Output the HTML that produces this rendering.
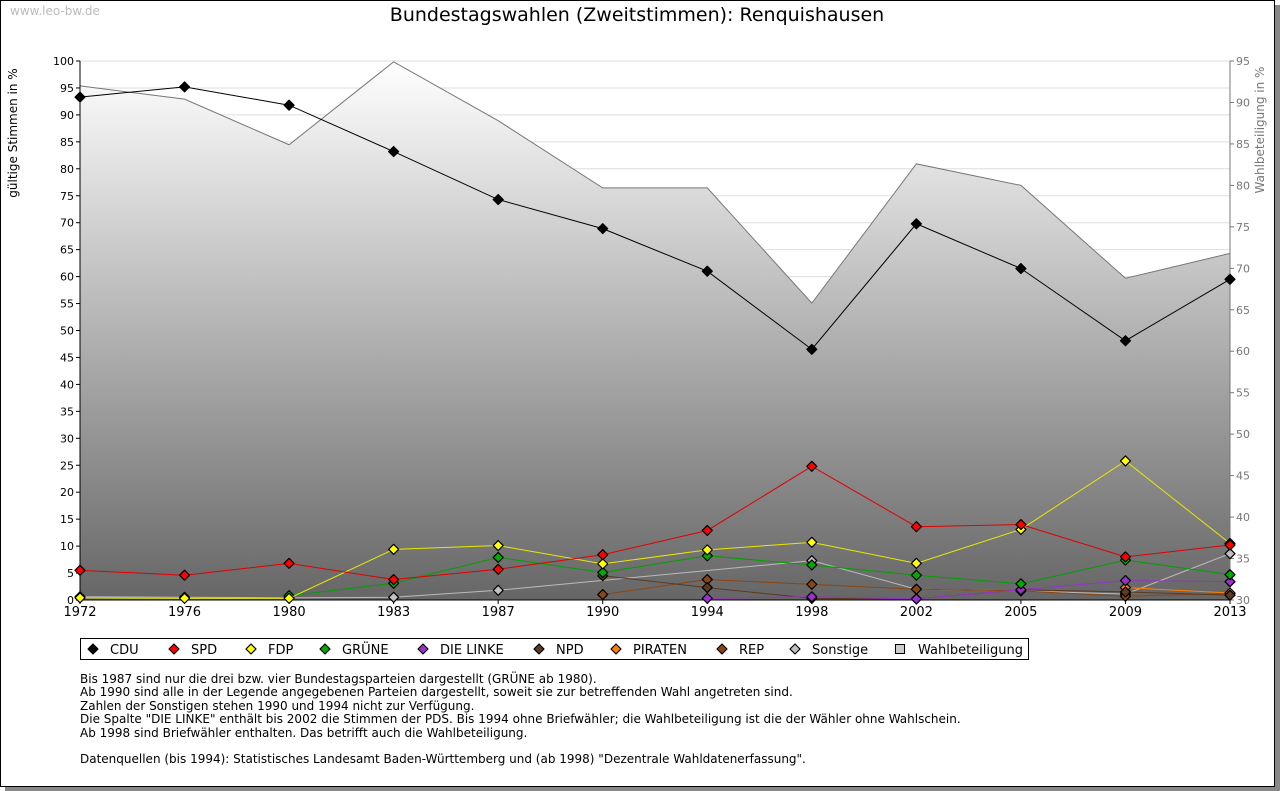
<!DOCTYPE html><html><head><meta charset="utf-8"><style>
body{margin:0;background:#fff;font-family:"DejaVu Sans","Liberation Sans",sans-serif}
#frame{position:absolute;left:0;top:0;width:1273px;height:785px;border:1px solid #000;box-shadow:5px 5px 0 #888;background:#fff}
.note{position:absolute;left:80px;top:673px;font-size:12px;line-height:13.4px;color:#000;white-space:pre}
</style></head><body>
<div id="frame"></div>
<svg id="c" width="1280" height="791" style="position:absolute;left:0;top:0" font-family="DejaVu Sans, Liberation Sans, sans-serif">
<defs><linearGradient id="g" x1="0" y1="0" x2="0" y2="1"><stop offset="0" stop-color="#ffffff"/><stop offset="1" stop-color="#666666"/></linearGradient></defs>
<text x="10" y="15" font-size="12" fill="#bbb">www.leo-bw.de</text>
<text x="637" y="21" font-size="19" text-anchor="middle">Bundestagswahlen (Zweitstimmen): Renquishausen</text>
<text transform="translate(17,133) rotate(-90)" font-size="12" text-anchor="middle">gültige Stimmen in %</text>
<text transform="translate(1264,130) rotate(-90)" font-size="12" fill="#777" text-anchor="middle">Wahlbeteiligung in %</text>
<g id="plot"></g>
</svg>
<div class="note">Bis 1987 sind nur die drei bzw. vier Bundestagsparteien dargestellt (GRÜNE ab 1980).
Ab 1990 sind alle in der Legende angegebenen Parteien dargestellt, soweit sie zur betreffenden Wahl angetreten sind.
Zahlen der Sonstigen stehen 1990 und 1994 nicht zur Verfügung.
Die Spalte "DIE LINKE" enthält bis 2002 die Stimmen der PDS. Bis 1994 ohne Briefwähler; die Wahlbeteiligung ist die der Wähler ohne Wahlschein.
Ab 1998 sind Briefwähler enthalten. Das betrifft auch die Wahlbeteiligung.

Datenquellen (bis 1994): Statistisches Landesamt Baden-Württemberg und (ab 1998) "Dezentrale Wahldatenerfassung".</div>
<script>
const years=["1972","1976","1980","1983","1987","1990","1994","1998","2002","2005","2009","2013"];
const turnout=[92.0,90.4,84.9,94.9,87.8,79.7,79.7,65.8,82.6,80.0,68.8,71.8];
const cdu=[93.3,95.2,91.8,83.2,74.3,68.9,61.0,46.5,69.8,61.5,48.1,59.5];
const spd=[5.5,4.6,6.8,3.8,5.7,8.4,12.9,24.8,13.6,14.0,8.0,10.2];
const fdp=[0.4,0.3,0.3,9.4,10.1,6.7,9.3,10.7,6.8,13.1,25.8,10.5];
const gruene=[null,null,0.8,3.1,7.9,5.1,8.2,6.5,4.6,3.0,7.4,4.7];
const linke=[null,null,null,null,null,null,0.3,0.6,0.2,1.9,3.6,3.4];
const npd=[null,null,null,null,null,4.5,2.3,0.3,0.2,1.9,1.5,0.9];
const piraten=[null,null,null,null,null,null,null,null,null,null,2.3,1.3];
const rep=[null,null,null,null,null,1.0,3.8,2.9,2.0,1.7,0.7,1.2];
const sonstige=[0.6,0.5,0.4,0.5,1.8,null,null,7.3,2.0,1.7,1.1,8.6];
const leftTicks=[0,5,10,15,20,25,30,35,40,45,50,55,60,65,70,75,80,85,90,95,100];
const rightTicks=[30,35,40,45,50,55,60,65,70,75,80,85,90,95];
const X0=80,X1=1230,YT=61,YB=600;
const x=i=>X0+(X1-X0)*i/(years.length-1);
const y=v=>YB-(YB-YT)*v/100;
const y2=v=>YB-(YB-YT)*(v-30)/65;
const NS="http://www.w3.org/2000/svg",P=document.getElementById('plot');
function mk(t,a){const e=document.createElementNS(NS,t);for(const k in a)e.setAttribute(k,a[k]);P.appendChild(e);return e;}
leftTicks.forEach(v=>{const l=mk('line',{x1:X0,x2:X1,y1:y(v),y2:y(v),stroke:'#ddd'});


const t=mk('text',{x:X0-6,y:y(v)+4,'font-size':11,'text-anchor':'end'});t.textContent=v;


mk('line',{x1:X0-4,x2:X0,y1:y(v),y2:y(v),stroke:'#000'});});
rightTicks.forEach(v=>{const t=mk('text',{x:X1+6,y:y2(v)+4,'font-size':11,fill:'#777'});t.textContent=v;


mk('line',{x1:X1,x2:X1+4,y1:y2(v),y2:y2(v),stroke:'#777'});});
let d='M'+x(0)+','+YB;turnout.forEach((v,i)=>d+=' L'+x(i)+','+y2(v));d+=' L'+x(years.length-1)+','+YB+'Z';
const a=mk('path',{d:d,fill:'url(#g)'});


const al=mk('polyline',{points:turnout.map((v,i)=>x(i)+','+y2(v)).join(' '),fill:'none',stroke:'#777','stroke-width':1});


mk('line',{x1:X0,x2:X0,y1:YT,y2:YB,stroke:'#000'});
mk('line',{x1:X1,x2:X1,y1:YT,y2:YB,stroke:'#777'});
mk('line',{x1:X0,x2:X1,y1:YB,y2:YB,stroke:'#000'});
years.forEach((yr,i)=>{mk('line',{x1:x(i),x2:x(i),y1:YB,y2:YB+4,stroke:'#000'});
const t=mk('text',{x:x(i),y:YB+16,'font-size':13,'text-anchor':'middle'});t.textContent=yr;

});
const series=[["sonstige",sonstige,'#bbb','#c0c0c0'],["rep",rep,'#8b4513','#8b4513'],["piraten",piraten,'#ff8000','#ff8000'],["npd",npd,'#5a3a20','#5a3a20'],["linke",linke,'#9932cc','#9932cc'],["gruene",gruene,'#00a000','#00aa00'],["fdp",fdp,'#e8e800','#ffff00'],["spd",spd,'#e00000','#ff0000'],["cdu",cdu,'#000','#000']];
series.forEach(([n,vals,lc,fc])=>{
const pts=[];vals.forEach((v,i)=>{if(v!==null)pts.push([x(i),y(v)]);});
const l=mk('polyline',{points:pts.map(p=>p.join(',')).join(' '),fill:'none',stroke:lc,'stroke-width':1});


pts.forEach(p=>{const m=mk('path',{d:`M${p[0]},${p[1]-5} L${p[0]+5},${p[1]} L${p[0]},${p[1]+5} L${p[0]-5},${p[1]} Z`,fill:fc,stroke:'#000','stroke-width':1.2,'stroke-linejoin':'round'});

});});
const lg=mk('rect',{x:80.5,y:638.5,width:948,height:21,fill:'#fff',stroke:'#000'});


const leg=[["CDU",'#000',93],["SPD",'#ff0000',174],["FDP",'#ffff00',251],["GRÜNE",'#00aa00',325],["DIE LINKE",'#9932cc',423],["NPD",'#5a3a20',539],["PIRATEN",'#ff8000',616],["REP",'#8b4513',722],["Sonstige",'#c0c0c0',795]];
leg.forEach(([t,c,lx])=>{mk('path',{d:`M${lx},${644} L${lx+5},${649} L${lx},${654} L${lx-5},${649} Z`,fill:c,stroke:'#000','stroke-width':1.2,'stroke-linejoin':'round'});
const tx=mk('text',{x:lx+17,y:654,'font-size':13});tx.textContent=t;

});
mk('rect',{x:895.5,y:644.5,width:9,height:9,fill:'#ccc',stroke:'#000'});
const wt=mk('text',{x:918,y:654,'font-size':13});wt.textContent='Wahlbeteiligung';


</script></body></html>
